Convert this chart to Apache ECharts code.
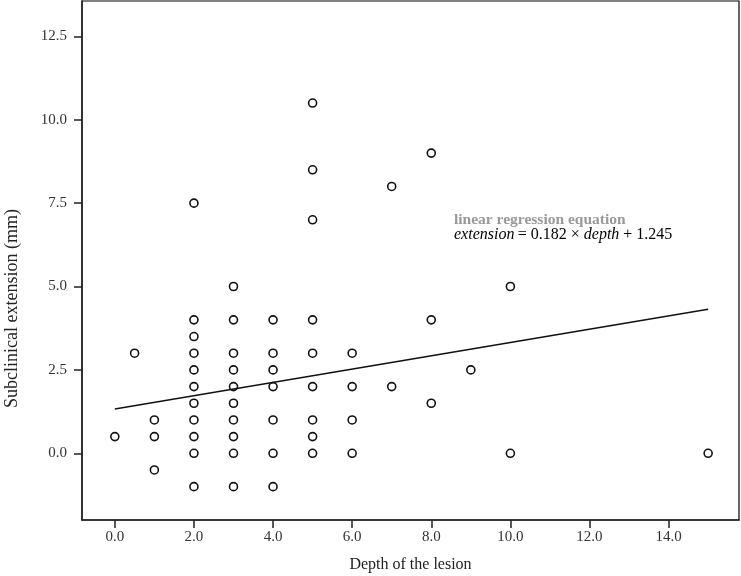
<!DOCTYPE html>
<html>
<head>
<meta charset="utf-8">
<script src="https://cdn.jsdelivr.net/npm/echarts@6/dist/echarts.min.js"></script>
<style>html,body{margin:0;padding:0;background:#fff;}#c{width:741px;height:576px;}</style>
</head>
<body>
<div id="c"></div>
<script>
// depth values (x) and subclinical extension (y)
var depth = [
  0, 0.5,
  1, 1, 1,
  2, 2, 2, 2, 2, 2, 2, 2, 2, 2, 2,
  3, 3, 3, 3, 3, 3, 3, 3, 3, 3,
  4, 4, 4, 4, 4, 4, 4,
  5, 5, 5, 5, 5, 5, 5, 5, 5,
  6, 6, 6, 6,
  7, 7,
  8, 8, 8,
  9,
  10, 10,
  15
];
var extension = [
  0.5, 3.0,
  1.0, 0.5, -0.5,
  7.5, 4.0, 3.5, 3.0, 2.5, 2.0, 1.5, 1.0, 0.5, 0.0, -1.0,
  5.0, 4.0, 3.0, 2.5, 2.0, 1.5, 1.0, 0.5, 0.0, -1.0,
  4.0, 3.0, 2.5, 2.0, 1.0, 0.0, -1.0,
  10.5, 8.5, 7.0, 4.0, 3.0, 2.0, 1.0, 0.5, 0.0,
  3.0, 2.0, 1.0, 0.0,
  8.0, 2.0,
  9.0, 4.0, 1.5,
  2.5,
  5.0, 0.0,
  0.0
];
// regression line endpoints as drawn
var lineX = [0, 15];
var lineY = [1.33, 4.32];
var xTicks = [0, 2, 4, 6, 8, 10, 12, 14];
var yTicks = [0, 2.5, 5, 7.5, 10, 12.5];
var xTitle = 'Depth of the lesion';
var yTitle = 'Subclinical extension (mm)';
var eqTitle = 'linear regression equation';

var pts = depth.map(function (d, i) { return [d, extension[i]]; });
var linePts = lineX.map(function (d, i) { return [d, lineY[i]]; });

var serif = '"Liberation Serif", "DejaVu Serif", serif';
var chart = echarts.init(document.getElementById('c'), null, { renderer: 'canvas' });
chart.setOption({
  animation: false,
  backgroundColor: '#fff',
  grid: { left: 82, right: 2, top: 1, bottom: 56, containLabel: false, outerBoundsMode: 'none',
    show: true, borderColor: '#000', borderWidth: 1.2, backgroundColor: 'transparent' },
  xAxis: {
    type: 'value', min: -0.83, max: 15.78,
    name: xTitle, nameLocation: 'middle', nameGap: 37,
    nameTextStyle: { fontFamily: serif, fontSize: 16, color: '#222' },
    axisLine: { show: true, onZero: false, lineStyle: { color: '#222', width: 1.5 } },
    axisTick: { show: true, length: 8, inside: false, customValues: xTicks, lineStyle: { color: '#222', width: 1.5 } },
    axisLabel: { customValues: xTicks, margin: 10, fontFamily: serif, fontSize: 15, color: '#333',
      formatter: function (v) { return v.toFixed(1); } },
    splitLine: { show: false }
  },
  yAxis: {
    type: 'value', min: -2.0, max: 13.56,
    axisLine: { show: true, onZero: false, lineStyle: { color: '#222', width: 1.5 } },
    axisTick: { show: true, length: 8, inside: false, customValues: yTicks, lineStyle: { color: '#222', width: 1.5 } },
    axisLabel: { customValues: yTicks, margin: 15, fontFamily: serif, fontSize: 15, color: '#333',
      formatter: function (v) { return v.toFixed(1); } },
    splitLine: { show: false }
  },
  series: [
    {
      type: 'line', data: linePts, symbol: 'none', silent: true,
      lineStyle: { color: '#111', width: 1.6 }, z: 2
    },
    {
      type: 'scatter', data: pts, symbol: 'circle', symbolSize: 8,
      itemStyle: { color: 'rgba(255,255,255,0)', borderColor: '#111', borderWidth: 1.6, opacity: 1 }, z: 3
    }
  ],
  graphic: [
    { type: 'text', rotation: Math.PI / 2, x: 3, y: 408,
      style: { text: yTitle, font: '18px ' + serif, fill: '#222' } },
    { type: 'text', left: 454, top: 212,
      style: { text: eqTitle, font: 'bold 15.5px ' + serif, fill: '#999' } },
    { type: 'text', left: 454, top: 227,
      style: { rich: {
        i: { fontFamily: serif, fontStyle: 'italic', fontSize: 16, color: '#111' },
        n: { fontFamily: serif, fontSize: 16, color: '#111' }
      }, text: '{i|extension} {n|= 0.182 × }{i|depth}{n| + 1.245}' } }
  ]
});
</script>
</body>
</html>
